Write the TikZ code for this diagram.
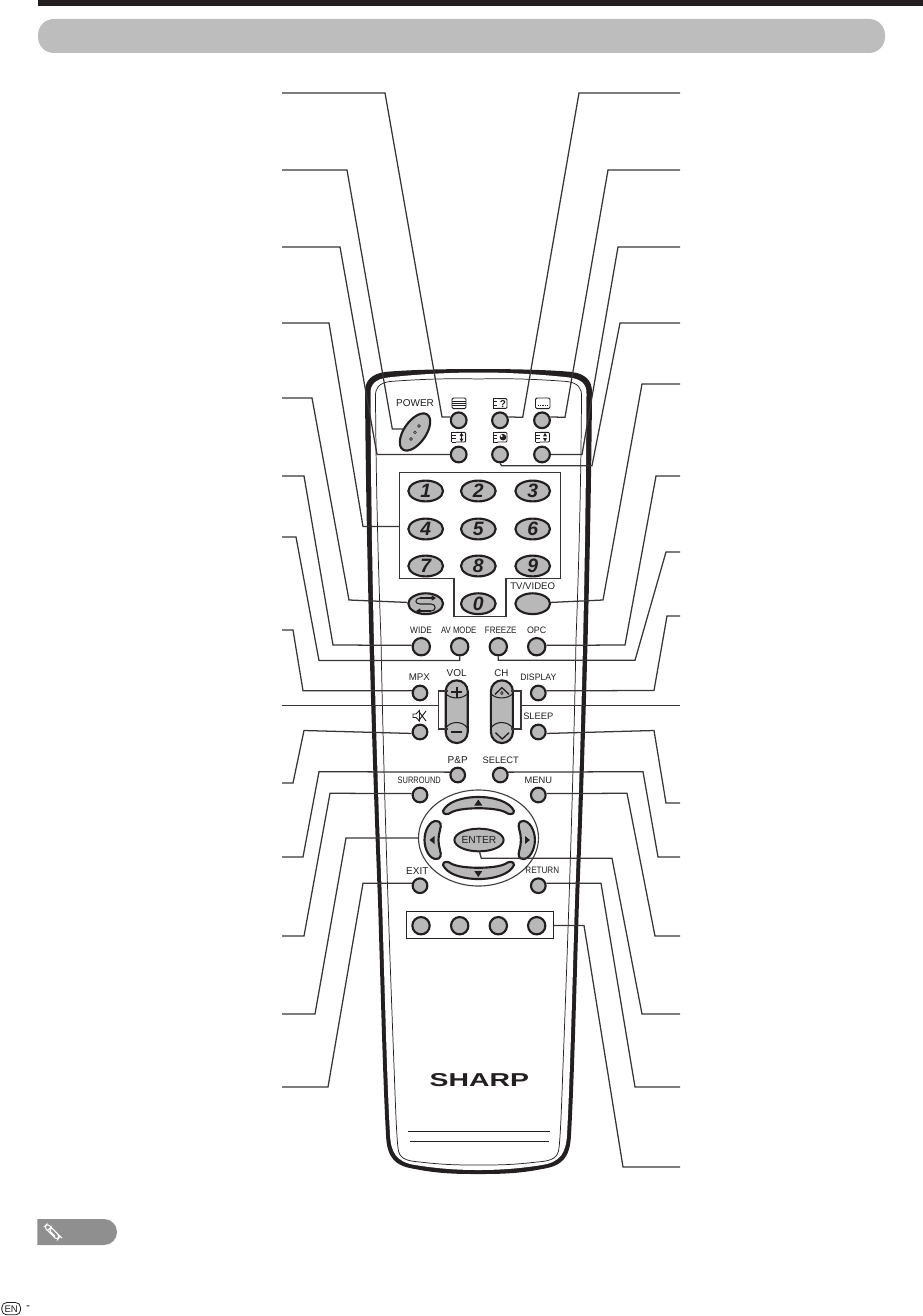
\documentclass[tikz,border=0pt]{standalone}
\usepackage{fontspec}
\setmainfont{Liberation Sans}
\usetikzlibrary{shapes.geometric,arrows.meta}
\definecolor{ink}{HTML}{231F20}
\definecolor{keyg}{HTML}{B8B8B8}
\definecolor{band}{HTML}{BDBDBD}
\definecolor{notg}{HTML}{8F8F8F}
\newcommand\sz[1]{\fontsize{#1}{#1}\selectfont}
\newcommand\cx[2]{\scalebox{#1}[1]{#2}}
\newcommand\ticonbase[2]{%
  \draw[iconln] (#1-6.8,#2+4.8) -- (#1-6.8,#2-4.8) -- (#1-2.5,#2-4.8)
     (#1-6.8,#2-1.6) -- (#1-3,#2-1.6) (#1-6.8,#2+1.6) -- (#1-3,#2+1.6) (#1-6.8,#2+4.8) -- (#1-2.5,#2+4.8);
  \draw[iconln,rounded corners=.8pt] (#1-2.5,#2-4.8) -- (#1+7,#2-4.8) -- (#1+7,#2+4.8) -- (#1-2.5,#2+4.8);
}
\tikzset{
  x=.75pt,y=-.75pt,
  conn/.style={draw=ink!90,line width=.95pt,line join=miter},
  lbl/.style={inner sep=0pt,text=ink},
  keybase/.style={circle,draw=ink,fill=keyg,line width=1.6pt,inner sep=0pt},
  btnS/.style={keybase,minimum size=11pt},
  btnM/.style={keybase,minimum size=11.8pt},
  btnL/.style={keybase,minimum size=13pt},
  numkey/.style={ellipse,draw=ink,fill=keyg,line width=1.6pt,inner sep=0pt,minimum width=26pt,minimum height=15.6pt,font=\sz{14.5}\bfseries\itshape,text=ink},
  rocker/.style={rectangle,draw=ink,fill=keyg,line width=1.6pt,inner sep=0pt,minimum width=16.5pt,minimum height=47pt,rounded corners=8.2pt},
  iconln/.style={draw=ink,line width=.7pt},
  padkey/.style={draw=ink,fill=keyg,line width=1.6pt},
  bodyline/.style={draw=ink,line width=.55pt},
  barb/.style={ink,line width=.8pt,-{Straight Barb[length=2.5pt,width=3.2pt]}},
}
\begin{document}
\begin{tikzpicture}
\useasboundingbox (0,0) rectangle (923,1316);
% page furniture
\fill[ink] (38,0) rectangle (923,5.8);
\fill[band,rounded corners=12pt] (38,19) rectangle (885,53);
\fill[notg] (37.3,1219) -- (104,1219) .. controls (111.2,1219) and (117,1224.8) .. (117,1232) .. controls (117,1239.2) and (111.2,1245) .. (104,1245) -- (37.3,1245) -- cycle;
\draw[white,line width=.8pt,rounded corners=2.4pt] (55,1236) -- (48.5,1229.5) -- (51,1227) -- (60,1236.5) -- (57.2,1240) -- (44,1227) -- (47.5,1223.5) -- (62,1238);
\node[draw=ink,line width=.6pt,rounded corners=3.6pt,inner sep=0pt,minimum width=14pt,minimum height=9.2pt,font=\sz{7.2},text=ink] (en) at (11.2,1308.7) {EN};
\node[lbl,font=\sz{9}] (pg) at (28,1307.5) {-};

% remote body
\fill[ink] (478.5,369) .. controls (440,369) and (405,370) .. (385,372) .. controls (372,374) and (365,380) .. (365,392)
  .. controls (366,520) and (370,700) .. (378,900) .. controls (381,1000) and (383,1080) .. (386,1135)
  .. controls (387,1158) and (395,1166) .. (415,1169) .. controls (440,1174) and (460,1174) .. (478.5,1174)
  .. controls (497,1174) and (517,1174) .. (542,1169) .. controls (562,1166) and (570,1158) .. (571,1135)
  .. controls (574,1080) and (576,1000) .. (579,900) .. controls (587,700) and (591,520) .. (592,392)
  .. controls (592,380) and (585,374) .. (572,372) .. controls (552,370) and (517,369) .. (478.5,369) -- cycle;
\fill[white] (478.5,372.5) .. controls (440,372.5) and (405,375.5) .. (388,377.5) .. controls (376,379) and (370,384) .. (370.5,394)
  .. controls (371,520) and (374,700) .. (382,900) .. controls (385,1000) and (387,1080) .. (390,1135)
  .. controls (391,1152) and (396,1162) .. (415,1165) .. controls (440,1169) and (460,1170) .. (478.5,1170)
  .. controls (497,1170) and (517,1169) .. (542,1165) .. controls (561,1162) and (566,1152) .. (567,1135)
  .. controls (570,1080) and (572,1000) .. (575,900) .. controls (583,700) and (586,520) .. (586.5,394)
  .. controls (587,384) and (581,379) .. (569,377.5) .. controls (552,375.5) and (517,372.5) .. (478.5,372.5) -- cycle;
\draw[bodyline] (478.5,379) .. controls (440,378) and (410,380) .. (390,381.5) .. controls (379,383) and (375,388) .. (375.5,397)
  .. controls (376,480) and (378,560) .. (381,640) .. controls (384,800) and (390,960) .. (393,1040)
  .. controls (395,1090) and (396,1130) .. (398,1148) .. controls (399,1158) and (405,1161) .. (420,1162)
  .. controls (445,1165) and (460,1165) .. (478.5,1165)
  .. controls (497,1165) and (512,1165) .. (537,1162) .. controls (552,1161) and (558,1158) .. (559,1148)
  .. controls (561,1130) and (562,1090) .. (564,1040) .. controls (567,960) and (573,800) .. (576,640)
  .. controls (579,560) and (581,480) .. (581.5,397) .. controls (582,388) and (578,383) .. (567,381.5)
  .. controls (547,380) and (517,378) .. (478.5,379);
\draw[line width=.7pt,draw=ink] (408.3,1131) -- (550,1131) (410,1141) -- (549,1141);
\node[lbl,font=\sz{14}\bfseries] (brand) at (479.3,1080) {\cx{1.52}{SHARP}};

% top keys
\node[lbl,font=\sz{7.5}] (tpower) at (415,403.3) {POWER};
\node[ellipse,draw=ink,fill=keyg,line width=1.6pt,inner sep=0pt,minimum width=32pt,minimum height=16.5pt,rotate=55] (pow) at (415,432) {};
\foreach \a/\b in {419/426,415/432.3,411/439}{\draw[ink,line width=.5pt,fill=white] (\a,\b) circle[radius=1.3];}
\node[btnM] (bt1) at (458.7,420.3) {};
\node[btnM] (bt2) at (500,420.3) {};
\node[btnM] (bt3) at (542,420.3) {};
\node[btnM] (bb1) at (458.7,454.5) {};
\node[btnM] (bb2) at (500,454.5) {};
\node[btnM] (bb3) at (542,454.5) {};
% icons
\draw[iconln,rounded corners=1pt] (452,398) rectangle (466,408.6);
\draw[iconln] (452,401.4) -- (466,401.4) (452,403.3) -- (466,403.3) (452,405.2) -- (466,405.2);
\ticonbase{500}{403.5}
\node[lbl,font=\sz{7.5}\bfseries] (tq) at (503,403.6) {?};
\draw[iconln,rounded corners=1pt] (535.5,398) rectangle (550,408.6);
\draw[line width=1pt,draw=ink,dash pattern=on 1pt off .8pt] (537.5,405.8) -- (548,405.8);
\ticonbase{458.7}{437.2}
\draw[iconln] (461.5,433.5) -- (461.5,441);
\fill[ink] (461.5,432.5) -- (459.5,436) -- (463.5,436) -- cycle (461.5,442) -- (459.5,438.5) -- (463.5,438.5) -- cycle;
\ticonbase{500}{437.2}
\fill[ink] (503,437.2) circle[radius=3.3];
\fill[white] (501.6,436) circle[radius=1.2];
\ticonbase{542.5}{437.2}
\fill[ink] (545,432.8) -- (543,436.4) -- (547,436.4) -- cycle (545,441.6) -- (543,438) -- (547,438) -- cycle;

% number keys
\draw[conn,line width=1.1pt] (399.3,472.7) -- (560.7,472.7) -- (560.7,578.3) -- (506,578.3) -- (506,616.7) -- (454,616.7) -- (454,578.3) -- (399.3,578.3) -- cycle;
\coordinate (numL) at (399.3,526.5);
\node[numkey] (n1) at (425.7,491) {1};
\node[numkey] (n2) at (478.3,491) {2};
\node[numkey] (n3) at (532.7,491) {3};
\node[numkey] (n4) at (425.7,529) {4};
\node[numkey] (n5) at (478.3,529) {5};
\node[numkey] (n6) at (532.7,529) {6};
\node[numkey] (n7) at (425.7,566) {7};
\node[numkey] (n8) at (478.3,566) {8};
\node[numkey] (n9) at (532.7,566) {9};
\node[numkey] (n0) at (478.3,603.7) {0};
\node[numkey] (flash) at (425.7,603.7) {};
\node[numkey] (tvkey) at (532.7,603.7) {};
\draw[barb] (420,598) -- (436,598);
\draw[ink,line width=.8pt] (420,598) .. controls (414.5,598.5) and (414.5,604) .. (420,604) -- (431,604) .. controls (436.5,604) and (436.5,611) .. (431,611);
\draw[barb] (431,611) -- (416,611);
\node[lbl,font=\sz{7.2}] (ttv) at (532.7,585.7) {TV/VIDEO};

% middle row
\node[lbl,font=\sz{7}] (twide) at (421,630.5) {\cx{.89}{WIDE}};
\node[lbl,font=\sz{7}] (tav) at (458.7,630.5) {\cx{.83}{AV MODE}};
\node[lbl,font=\sz{7}] (tfr) at (500.7,630.5) {\cx{.86}{FREEZE}};
\node[lbl,font=\sz{7}] (topc) at (536.7,630.5) {\cx{.95}{OPC}};
\node[btnL] (bwide) at (421.3,646.7) {};
\node[btnL] (bav) at (459.7,646.7) {};
\node[btnL] (bfr) at (498.3,646.7) {};
\node[btnL] (bopc) at (536.7,646.7) {};
\node[lbl,font=\sz{7.3}] (tmpx) at (419.3,677.3) {MPX};
\node[lbl,font=\sz{7.5}] (tvol) at (456.7,672.7) {VOL};
\node[lbl,font=\sz{7.3}] (tch) at (501.3,672.7) {CH};
\node[lbl,font=\sz{7}] (tdisp) at (538.3,677.3) {\cx{.93}{DISPLAY}};
\node[lbl,font=\sz{7}] (tsleep) at (538.3,716.7) {SLEEP};
\node[btnS] (bmpx) at (420,693) {};
\node[btnS] (bmute) at (420,732) {};
\node[btnS] (bdisp) at (538.3,693) {};
\node[btnS] (bsleep) at (538.3,732) {};
% mute icon
\draw[iconln] (413,714) -- (416,714) -- (419.5,710.5) -- (419.5,721) -- (416,717.5) -- (413,717.5) -- cycle;
\draw[iconln] (418.5,711) -- (426,721) (426,711) -- (418.5,721);
% rockers
\node[rocker] (vol) at (456.7,711.7) {};
\node[rocker] (chr) at (501.9,711.7) {};
\draw[iconln,line width=.8pt] (445.5,693.3) .. controls (450,699.5) and (463,699.5) .. (467.8,693.3)
  (445.5,728.5) .. controls (450,720.5) and (463,720.5) .. (467.8,728.5);
\draw[iconln,line width=.8pt] (490.7,693.3) .. controls (495,699.5) and (508,699.5) .. (513,693.3)
  (490.7,728.5) .. controls (495,720.5) and (508,720.5) .. (513,728.5);
\draw[ink,line width=1.5pt] (451,692.3) -- (462.4,692.3) (456.7,686.6) -- (456.7,698) (451,731.7) -- (462.4,731.7);
\draw[ink,line width=1pt] (495,694.3) -- (501.9,687.7) -- (509,694.3) (495.5,732.7) -- (502.2,739) -- (509,732.7);
\draw[ink,line width=.5pt] (501.9,691.5) -- (503.2,693) -- (501.9,694.5) -- (500.6,693) -- cycle;
% lower keys
\node[lbl,font=\sz{7.5}] (tpp) at (457.7,760) {P\&P};
\node[lbl,font=\sz{7}] (tsel) at (500.7,760) {SELECT};
\node[lbl,font=\sz{7}] (tsur) at (419.3,780) {\cx{.8}{SURROUND}};
\node[lbl,font=\sz{7}] (tmenu) at (538.3,780) {MENU};
\node[btnS] (bpp) at (457.7,775) {};
\node[btnS] (bsel) at (500.3,775) {};
\node[btnS] (bsur) at (420,795) {};
\node[btnS] (bmenu) at (538.3,795) {};
% cursor cluster
\node[ellipse,draw=ink!85,line width=.85pt,inner sep=0pt,minimum width=90pt,minimum height=72pt] (ring) at (478.5,838) {};
\draw[padkey] (443,811) .. controls (447,802) and (462,797) .. (478.3,797) .. controls (495,797) and (510,802) .. (514,811)
  .. controls (514,815) and (509,815) .. (505,812) .. controls (495,807) and (462,807) .. (452,812) .. controls (448,815) and (443,815) .. (443,811) -- cycle;
\draw[padkey] (443,865) .. controls (447,874) and (462,879) .. (478.3,879) .. controls (495,879) and (510,874) .. (514,865)
  .. controls (514,861) and (509,861) .. (505,864) .. controls (495,869) and (462,869) .. (452,864) .. controls (448,861) and (443,861) .. (443,865) -- cycle;
\draw[padkey] (436,821) .. controls (430,821) and (424.5,830) .. (424.5,840) .. controls (424.5,850) and (430,859) .. (436,859)
  .. controls (441,859) and (441.5,855) .. (440,850) .. controls (438,843) and (438,837) .. (440,830) .. controls (441.5,825) and (441,821) .. (436,821) -- cycle;
\draw[padkey] (523.4,821) .. controls (529.4,821) and (534.9,830) .. (534.9,840) .. controls (534.9,850) and (529.4,859) .. (523.4,859)
  .. controls (518.4,859) and (517.9,855) .. (519.4,850) .. controls (521.4,843) and (521.4,837) .. (519.4,830) .. controls (517.9,825) and (518.4,821) .. (523.4,821) -- cycle;
\fill[ink] (478.3,799.5) -- (474.3,805.5) -- (482.3,805.5) -- cycle
  (478.3,877) -- (474.3,871) -- (482.3,871) -- cycle
  (429.5,840) -- (434.5,836) -- (434.5,844) -- cycle
  (530,840) -- (525,836) -- (525,844) -- cycle;
\node[ellipse,draw=ink,fill=keyg,line width=1.5pt,inner sep=0pt,minimum width=31pt,minimum height=17pt,font=\sz{7.7},text=ink] (enter) at (479,840) {ENTER};
\node[lbl,font=\sz{7.5}] (texit) at (417.3,870.7) {EXIT};
\node[lbl,font=\sz{7}] (tret) at (542.3,870.7) {\cx{.87}{RETURN}};
\node[btnS] (bexit) at (420,885.7) {};
\node[btnS] (bret) at (538.3,885.7) {};
\node[draw=ink,line width=.8pt,inner sep=0pt,minimum width=110.5pt,minimum height=20pt] (colbox) at (479.7,925) {};
\node[btnL] (c1) at (421,925.7) {};
\node[btnL] (c2) at (459.7,925.7) {};
\node[btnL] (c3) at (498.3,925.7) {};
\node[btnL] (c4) at (536.7,925.7) {};

% free ends of the call-out lines
\foreach \n/\y in {L1/93,L2/170,L3/247,L4/323,L5/398,L6/476,L7/537,L8/630,L9/705.5,L10/783,L11/857,L12/936,L13/1014,L14/1087}{\coordinate (\n) at (282,\y);}
\foreach \n/\y in {R1/93,R2/170,R3/247,R4/323,R5/384,R6/476,R7/552,R8/616,R9/705.5,R10/803,R11/857,R12/936,R13/1014,R14/1087,R15/1167}{\coordinate (\n) at (680,\y);}
\coordinate (powin) at (403,429);
\coordinate (vt) at (448,691);
\coordinate (vb) at (448,729);
\coordinate (ct) at (510.7,691);
\coordinate (cb) at (510.7,729);
\coordinate (ringL) at (418.6,838);
\coordinate (colR) at (553,925.5);

% call-out lines, left
\draw[conn] (L1) -- (385,93) -- (442,417) -- (bt1.158);
\draw[conn] (L2) -- (347,170) -- (392.3,429) -- (powin);
\draw[conn] (L3) -- (340,247) -- (377,454.5) -- (bb1.west);
\draw[conn] (L4) -- (329,323) -- (363,526.5) -- (numL);
\draw[conn] (L5) -- (312,398) -- (349,600) -- (flash.176);
\draw[conn] (L6) -- (304,476) -- (333,645) -- (bwide.172);
\draw[conn] (L7) -- (296,537) -- (319,660.5) -- (459.7,660.5) -- (bav.south);
\draw[conn] (L8) -- (293,630) -- (303,690.7) -- (bmpx.165);
\draw[conn] (L9) -- (438.3,705.5);
\draw[conn] (vt) -- (438.3,691) -- (438.3,729) -- (vb);
\draw[conn] (L10) -- (293,783) -- (304,730.5) -- (bmute.190);
\draw[conn] (L11) -- (303,857) -- (319,771.7) -- (bpp.160);
\draw[conn] (L12) -- (304,936) -- (330,793.3) -- (bsur.170);
\draw[conn] (L13) -- (315,1014) -- (346,838) -- (ringL);
\draw[conn] (L14) -- (328,1087) -- (363,883.3) -- (bexit.163);
% call-out lines, right
\draw[conn] (R1) -- (579,93) -- (522.7,417.3) -- (bt2.22);
\draw[conn] (R2) -- (608,170) -- (565,417.3) -- (bt3.22);
\draw[conn] (R3) -- (618,247) -- (582,454.5) -- (bb3.east);
\draw[conn] (R4) -- (620,323) -- (592,465.7) -- (501.7,465.7) -- (bb2.south);
\draw[conn] (R5) -- (642,384) -- (603,600) -- (tvkey.4);
\draw[conn] (R6) -- (656,476) -- (625,645) -- (bopc.8);
\draw[conn] (R7) -- (666,552) -- (635,660.3) -- (498.3,660.3) -- (bfr.south);
\draw[conn] (R8) -- (667,616) -- (654,690.5) -- (bdisp.15);
\draw[conn] (R9) -- (521,705.5);
\draw[conn] (ct) -- (521,691) -- (521,729) -- (cb);
\draw[conn] (R10) -- (666,803) -- (654,730.5) -- (bsleep.-10);
\draw[conn] (R11) -- (658,857) -- (643,771.7) -- (bsel.20);
\draw[conn] (R12) -- (655,936) -- (627,793.3) -- (bmenu.10);
\draw[conn] (R13) -- (642,1014) -- (612,858.3) -- (481.3,858.3) -- (enter.-87);
\draw[conn] (R14) -- (635,1087) -- (601,883.3) -- (bret.17);
\draw[conn] (R15) -- (623,1167) -- (584,925.5) -- (colR);
\end{tikzpicture}
\end{document}
